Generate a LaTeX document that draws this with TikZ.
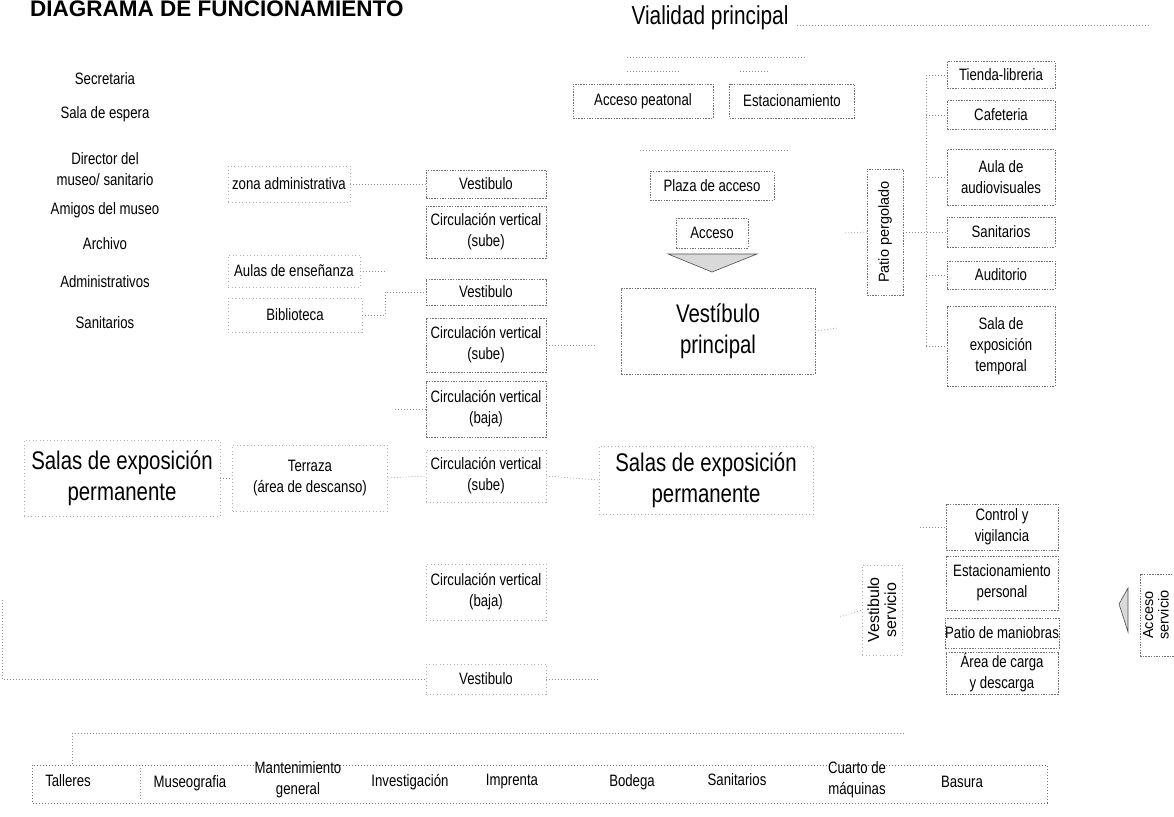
\documentclass[tikz,border=0pt]{standalone}
\usepackage{fontspec}
\setmainfont{Liberation Sans}[FakeStretch=0.8]
\newfontfamily\widefont{Liberation Sans}
\newcommand\rtxt{\fontsize{16.5}{21}\selectfont}
\newcommand\rbig{\fontsize{25.5}{31}\selectfont}
\newcommand\rrot{\widefont\fontsize{14.5}{16}\selectfont}
\newcommand\rrotb{\widefont\fontsize{16}{17}\selectfont}
\newcommand\rrotc{\widefont\fontsize{14.5}{15.5}\selectfont}
\begin{document}
\begin{tikzpicture}[x=1pt,y=-1pt,
  box/.style={draw=black!55, dash pattern=on 1.5pt off 1.2pt, line width=0.5pt, inner sep=0pt, align=center, font=\rtxt},
  fbox/.style={draw=black!30, dash pattern=on 1pt off 2.5pt, line width=0.5pt, inner sep=0pt, align=center, font=\rtxt},
  lbl/.style={inner sep=0pt, align=center, font=\rtxt},
  con/.style={draw=black!45, dash pattern=on 1pt off 2pt, line width=0.5pt},
]
\useasboundingbox (0,0) rectangle (1174,816);

% title
\node[anchor=base west, inner sep=0, font=\widefont\bfseries\fontsize{22.5}{24}\selectfont] (title) at (30,17) {DIAGRAMA DE FUNCIONAMIENTO};
\node[lbl, font=\fontsize{26}{30}\selectfont] (vial) at (710,18) {Vialidad principal};

% top access
\node[box, minimum width=140, minimum height=34] (apeat) at (643,101) {Acceso peatonal};
\node[box, minimum width=125, minimum height=34] (estac) at (792,101) {Estacionamiento};
\node[box, minimum width=124, minimum height=29] (plaza) at (712,186) {Plaza de acceso};
\node[box, minimum width=72, minimum height=30] (acceso) at (712,233) {Acceso};
\coordinate (t1) at (668,254); \coordinate (t2) at (757,254); \coordinate (t3) at (712,272);
\draw[black!70, fill=black!15, line width=0.6pt] (t1) -- (t2) -- (t3) -- cycle;
\node[box, font=\rbig, minimum width=194, minimum height=86] (vp) at (718,331) {Vestíbulo\\principal};

% left column
\node[lbl] (l1) at (105,79) {Secretaria};
\node[lbl] (l2) at (105,114) {Sala de espera};
\node[lbl] (l3) at (105,169) {Director del\\museo/ sanitario};
\node[lbl] (l4) at (105,210) {Amigos del museo};
\node[lbl] (l5) at (105,244) {Archivo};
\node[lbl] (l6) at (105,282) {Administrativos};
\node[lbl] (l7) at (105,323) {Sanitarios};

% second column
\node[fbox, minimum width=122, minimum height=36] (zona) at (289,184) {zona administrativa};
\node[fbox, minimum width=132, minimum height=32] (aulas) at (294,271) {Aulas de enseñanza};
\node[fbox, minimum width=134, minimum height=34] (biblio) at (295,315) {Biblioteca};

% vestibulo column
\node[box, minimum width=120, minimum height=28] (v1) at (486,184) {Vestibulo};
\node[box, minimum width=120, minimum height=52] (cvs1) at (486,232) {Circulación vertical\\(sube)};
\node[box, minimum width=120, minimum height=26] (v2) at (486,292) {Vestibulo};
\node[box, minimum width=120, minimum height=54] (cvs2) at (486,345) {Circulación vertical\\(sube)};
\node[box, minimum width=120, minimum height=56] (cvb1) at (486,409) {Circulación vertical\\(baja)};
\node[fbox, minimum width=120, minimum height=52] (cvs3) at (486,476) {Circulación vertical\\(sube)};
\node[fbox, minimum width=120, minimum height=56] (cvb2) at (486,592) {Circulación vertical\\(baja)};
\node[fbox, minimum width=120, minimum height=30] (v3) at (486,679) {Vestibulo};

% salas
\node[fbox, font=\rbig, minimum width=196, minimum height=76] (sl) at (122,478) {Salas de exposición\\permanente};
\node[fbox, minimum width=155, minimum height=66] (terr) at (310,478) {Terraza\\(área de descanso)};
\node[fbox, font=\rbig, minimum width=214, minimum height=68] (sm) at (706,480) {Salas de exposición\\permanente};

% patio pergolado & right column
\node[box, minimum width=36, minimum height=126] (patio) at (885,232) {};
\node[inner sep=0, rotate=90, font=\rrot] at (patio) {Patio pergolado};
\node[box, minimum width=108, minimum height=27] (tienda) at (1001,75) {Tienda-libreria};
\node[box, minimum width=108, minimum height=29] (cafe) at (1001,115) {Cafeteria};
\node[box, minimum width=108, minimum height=56] (aula) at (1001,177) {Aula de\\audiovisuales};
\node[box, minimum width=108, minimum height=30] (sanr) at (1001,232) {Sanitarios};
\node[box, minimum width=108, minimum height=28] (audi) at (1001,275) {Auditorio};
\node[box, minimum width=108, minimum height=80] (stemp) at (1001,346) {Sala de\\exposición\\temporal};

% service area
\node[box, minimum width=112, minimum height=46] (ctrl) at (1002,527) {Control y\\vigilancia};
\node[box, minimum width=112, minimum height=54] (estp) at (1002,583) {Estacionamiento\\personal};
\node[box, minimum width=112, minimum height=30] (pman) at (1002,633) {Patio de maniobras};
\node[box, minimum width=112, minimum height=42] (carga) at (1002,673) {Área de carga\\y descarga};
\node[fbox, minimum width=40, minimum height=90] (vserv) at (882,610) {};
\node[inner sep=0, rotate=90, align=center, font=\rrotb] at (vserv) {Vestibulo\\servicio};
\node[box, minimum width=40, minimum height=82] (aserv) at (1160,615) {};
\node[inner sep=0, rotate=90, align=center, font=\rrotc] at (1156,615) {Acceso\\servicio};
\coordinate (s1) at (1128,588); \coordinate (s2) at (1128,632); \coordinate (s3) at (1119,604);
\draw[black!70, fill=black!15, line width=0.6pt] (s1) -- (s2) -- (s3) -- cycle;

% bottom row
\draw[con, draw=black!55] (32,765) rectangle (1047,803);
\node[lbl] (b1) at (68,781) {Talleres};
\node[lbl] (b2) at (190,783) {Museografia};
\node[lbl] (b3) at (298,780) {Mantenimiento\\general};
\node[lbl] (b4) at (410,782) {Investigación};
\node[lbl] (b5) at (512,782) {Imprenta};
\node[lbl] (b6) at (632,782) {Bodega};
\node[lbl] (b7) at (737,780) {Sanitarios};
\node[lbl] (b8) at (857,780) {Cuarto de\\máquinas};
\node[lbl] (b9) at (962,782) {Basura};
\draw[con] (140,768) -- (140,800);

% connectors
\coordinate (vr) at (1150,25);
\draw[con] (vial.east) ++(8,7) -- (vr);
\draw[con] (627,57) -- (805,57);
\draw[con] (627,71) -- (680,71);
\draw[con] (740,71) -- (770,71);
\draw[con] (640,150) -- (790,150);
\coordinate (pw) at (845,233);
\draw[con] (pw) -- (patio.west);
\draw[con] (patio.east) -- (sanr.west);
\draw[con] (926,75) -- (926,346);
\draw[con] (926,75) -- (tienda.west);
\draw[con] (926,115) -- (cafe.west);
\draw[con] (926,177) -- (aula.west);
\draw[con] (926,275) -- (audi.west);
\draw[con] (926,346) -- (stemp.west);
\coordinate (vpe) at (838,328);
\draw[con] (vp.east) -- (vpe);
\draw[con] (cvs2.east) -- (595,345);
\draw[con] (zona.east) -- (v1.west);
\draw[con] (aulas.east) -- (385,271);
\draw[con] (biblio.east) -- (385,315) -- (385,292) -- (v2.west);
\draw[con] (395,409) -- (cvb1.west);
\draw[con] (sl.east) -- (terr.west);
\draw[con] (terr.east) -- (cvs3.west);
\draw[con] (cvs3.east) -- (sm.west);
\draw[con] (2,600) -- (2,679) -- (v3.west);
\draw[con] (v3.east) -- (600,679);
\draw[con] (72,733) -- (905,733);
\draw[con] (72,733) -- (72,765);
\draw[con] (840,617) -- (vserv.west);
\draw[con] (920,527) -- (ctrl.west);
\end{tikzpicture}
\end{document}
